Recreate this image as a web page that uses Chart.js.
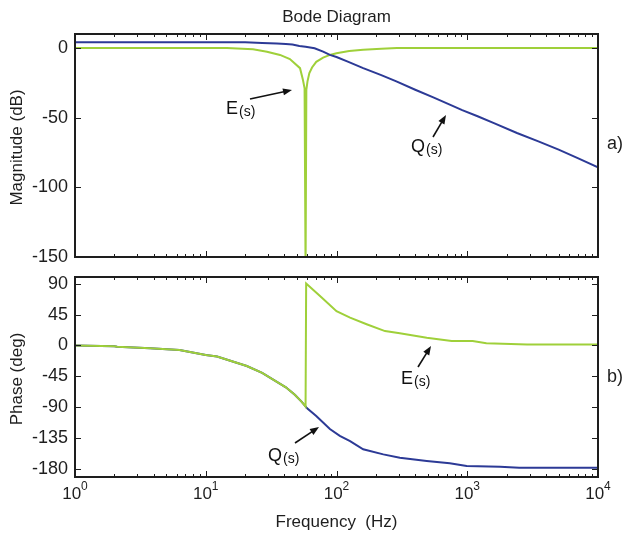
<!DOCTYPE html>
<html>
<head>
<meta charset="utf-8">
<script src="https://cdn.jsdelivr.net/npm/chart.js@4.4.1/dist/chart.umd.min.js"></script>
<style>
  body { margin: 0; background: #fff; }
  canvas { position: absolute; left: 0; }
  #mag { top: 0; }
  #phase { top: 266px; }
</style>
</head>
<body>
<canvas id="mag" width="627" height="266"></canvas>
<canvas id="phase" width="627" height="267"></canvas>
<script>
// Magnitude (dB)
const qMagFreq = [1, 10, 20, 27, 35, 41, 46, 52, 58, 68, 79, 89, 100, 122, 160, 220, 287, 400, 550, 750, 915, 1200, 1600, 2400, 3500, 5000, 7000, 10000];
const qMag     = [4, 4, 4, 3.6, 3.2, 2.9, 2.5, 1.4, 0.8, -0.2, -2.6, -5, -6.5, -9.8, -14.5, -19.5, -24, -30, -35.5, -41, -44.6, -49, -54, -61, -67, -73, -79, -85.6];
const eMagFreq = [1, 10, 14.5, 23, 29.4, 37, 44, 52.6, 55.4, 57, 58, 58.8, 60, 62, 65, 70, 79, 89, 100, 125, 160, 220, 290, 400, 10000];
const eMag     = [0, 0, -0.1, -1, -2.7, -5, -8, -14.5, -23, -29, -160, -30, -24, -18, -14, -10, -7, -5, -3.8, -2.2, -1.3, -0.6, -0.1, 0, 0];

// Phase (deg)
const qPhaseFreq = [1, 2, 2.1, 3.75, 6.3, 10, 12.2, 20.6, 27, 35, 41, 48, 54, 58, 59, 70, 89, 106, 127, 160, 228, 305, 490, 735, 990, 1780, 2500, 10000];
const qPhase     = [0, -1, -1.7, -4, -6.6, -14, -16, -30, -40, -53, -61, -72, -82, -89, -91, -103, -122, -132, -139.5, -151.5, -159, -164, -168.6, -172, -176, -177, -178.5, -178.5];
const ePhaseFreq = [1, 2, 2.1, 3.75, 6.3, 10, 12.2, 20.6, 27, 35, 41, 48, 54, 58, 58.6, 77, 100, 127, 170, 235, 305, 490, 760, 1100, 1400, 2870, 10000];
const ePhase     = [0, -1, -1.7, -4, -6.6, -14, -16, -30, -40, -53, -61, -72, -82, -89, 90.5, 70, 50, 40.6, 31, 21, 17.8, 11.4, 6.6, 6.6, 3.2, 1.5, 1.5];

const magTicks = [0, -50, -100, -150];
const phaseTicks = [90, 45, 0, -45, -90, -135, -180];
const decades = [0, 1, 2, 3, 4];

const BLUE = '#2c3a96';
const GREEN = '#9fd03a';
const INK = '#1e1e1e';
const FONT = '"Liberation Sans", Arial, sans-serif';

function pts(xs, ys) { return xs.map((x, i) => ({ x: x, y: ys[i] })); }

function line(ctx, x1, y1, x2, y2) {
  ctx.beginPath(); ctx.moveTo(x1, y1); ctx.lineTo(x2, y2); ctx.stroke();
}

function arrow(ctx, x1, y1, x2, y2) {
  const ang = Math.atan2(y2 - y1, x2 - x1);
  ctx.strokeStyle = '#111'; ctx.fillStyle = '#111'; ctx.lineWidth = 1.6;
  line(ctx, x1, y1, x2 - 6 * Math.cos(ang), y2 - 6 * Math.sin(ang));
  ctx.beginPath();
  ctx.moveTo(x2, y2);
  ctx.lineTo(x2 - 9 * Math.cos(ang) + 3.5 * Math.sin(ang), y2 - 9 * Math.sin(ang) - 3.5 * Math.cos(ang));
  ctx.lineTo(x2 - 9 * Math.cos(ang) - 3.5 * Math.sin(ang), y2 - 9 * Math.sin(ang) + 3.5 * Math.cos(ang));
  ctx.closePath(); ctx.fill();
}

// big letter with a small "(s)" subscript
function subLabel(ctx, x, y, main, sub) {
  ctx.fillStyle = '#111';
  ctx.textAlign = 'left'; ctx.textBaseline = 'alphabetic';
  ctx.font = '18px ' + FONT;
  ctx.fillText(main, x, y);
  const w = ctx.measureText(main).width;
  ctx.font = '14px ' + FONT;
  ctx.fillText(sub, x + w + 1, y + 2);
}

function framePlugin(opts) {
  return {
    id: 'frame',
    afterDatasetsDraw(chart) {
      const { ctx, chartArea: a, scales: { x, y } } = chart;
      ctx.save();
      ctx.strokeStyle = INK; ctx.lineWidth = 1;
      // x ticks inside, top and bottom
      decades.forEach(d => {
        const px = Math.round(x.getPixelForValue(Math.pow(10, d))) + 0.5;
        line(ctx, px, a.bottom, px, a.bottom - 6);
        line(ctx, px, a.top, px, a.top + 6);
        if (d < 4) {
          for (let k = 2; k <= 9; k++) {
            const mx = Math.round(x.getPixelForValue(k * Math.pow(10, d))) + 0.5;
            line(ctx, mx, a.bottom, mx, a.bottom - 3);
            line(ctx, mx, a.top, mx, a.top + 3);
          }
        }
      });
      // y ticks inside, left and right
      opts.yTicks.forEach(v => {
        const py = Math.round(y.getPixelForValue(v)) + 0.5;
        line(ctx, a.left, py, a.left + 6, py);
        line(ctx, a.right, py, a.right - 6, py);
      });
      // box
      ctx.lineWidth = 2;
      ctx.strokeRect(a.left, a.top, a.right - a.left, a.bottom - a.top);

      // y tick labels
      ctx.fillStyle = INK;
      ctx.font = '18px ' + FONT;
      ctx.textAlign = 'right'; ctx.textBaseline = 'middle';
      opts.yTicks.forEach(v => ctx.fillText(String(v), a.left - 7, y.getPixelForValue(v)));

      // y axis title
      ctx.save();
      ctx.translate(17, (a.top + a.bottom) / 2 + 2);
      ctx.rotate(-Math.PI / 2);
      ctx.textAlign = 'center'; ctx.textBaseline = 'middle';
      ctx.font = '17px ' + FONT;
      ctx.fillText(opts.yTitle, 0, 0);
      ctx.restore();

      // panel letter
      ctx.font = '18px ' + FONT;
      ctx.textAlign = 'left'; ctx.textBaseline = 'middle';
      ctx.fillText(opts.panel, a.right + 9, opts.panelY);

      if (opts.title) {
        ctx.font = '17px ' + FONT;
        ctx.textAlign = 'center'; ctx.textBaseline = 'middle';
        ctx.fillText(opts.title, (a.left + a.right) / 2, 17);
      }

      if (opts.xLabels) {
        decades.forEach(d => {
          const px = x.getPixelForValue(Math.pow(10, d));
          ctx.font = '17px ' + FONT;
          const wb = ctx.measureText('10').width;
          ctx.font = '12px ' + FONT;
          const we = ctx.measureText(String(d)).width;
          const left = px - (wb + we) / 2;
          ctx.textAlign = 'left'; ctx.textBaseline = 'alphabetic';
          ctx.font = '17px ' + FONT;
          ctx.fillText('10', left, a.bottom + 22);
          ctx.font = '12px ' + FONT;
          ctx.fillText(String(d), left + wb, a.bottom + 13);
        });
        ctx.font = '17px ' + FONT;
        ctx.textAlign = 'center'; ctx.textBaseline = 'middle';
        ctx.fillText('Frequency  (Hz)', (a.left + a.right) / 2, a.bottom + 45);
      }

      opts.notes.forEach(n => {
        subLabel(ctx, n.tx, n.ty, n.main, '(s)');
        arrow(ctx, n.ax1, n.ay1, n.ax2, n.ay2);
      });
      ctx.restore();
    }
  };
}

function makeChart(id, datasets, yMin, yMax, padding, opts) {
  return new Chart(document.getElementById(id), {
    type: 'line',
    data: { datasets: datasets },
    options: {
      responsive: false,
      animation: false,
      layout: { padding: padding },
      plugins: { legend: { display: false }, tooltip: { enabled: false } },
      elements: { point: { radius: 0 }, line: { borderWidth: 2, tension: 0 } },
      scales: {
        x: { type: 'logarithmic', min: 1, max: 10000, display: false },
        y: { type: 'linear', min: yMin, max: yMax, display: false }
      }
    },
    plugins: [framePlugin(opts)]
  });
}

makeChart('mag', [
  { data: pts(qMagFreq, qMag), borderColor: BLUE },
  { data: pts(eMagFreq, eMag), borderColor: GREEN }
], -150, 10, { left: 75, right: 29, top: 34, bottom: 9 }, {
  yTicks: magTicks, yTitle: 'Magnitude (dB)', panel: 'a)', panelY: 144,
  title: 'Bode Diagram', xLabels: false,
  notes: [
    { main: 'E', tx: 226, ty: 114, ax1: 250, ay1: 99, ax2: 292, ay2: 90 },
    { main: 'Q', tx: 411, ty: 152, ax1: 433, ay1: 137, ax2: 446, ay2: 115 }
  ]
});

makeChart('phase', [
  { data: pts(ePhaseFreq, ePhase), borderColor: GREEN },
  { data: pts(qPhaseFreq, qPhase), borderColor: BLUE }
], -192, 100, { left: 75, right: 29, top: 11, bottom: 56 }, {
  yTicks: phaseTicks, yTitle: 'Phase (deg)', panel: 'b)', panelY: 111,
  title: null, xLabels: true,
  notes: [
    { main: 'E', tx: 401, ty: 118, ax1: 418, ay1: 101, ax2: 431, ay2: 80 },
    { main: 'Q', tx: 268, ty: 195, ax1: 295, ay1: 177, ax2: 319, ay2: 161 }
  ]
});
</script>
</body>
</html>
